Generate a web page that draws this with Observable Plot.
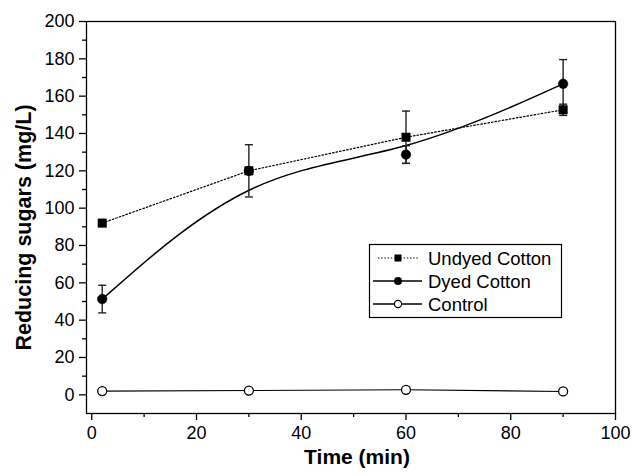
<!DOCTYPE html>
<html><head><meta charset="utf-8">
<script src="https://cdn.jsdelivr.net/npm/d3@7"></script>
<script src="https://cdn.jsdelivr.net/npm/@observablehq/plot@0.6"></script>
<style>body{margin:0;background:#fff} #chart{position:relative;width:632px;height:476px}</style>
</head><body><div id="chart"></div>
<script>
// ---- data ----
const time = [2, 30, 60, 90];
const undyed = [92, 120, 138, 152.7];
const undyedErr = [1, 0, 14, 3];
const dyed = [51.3, 120, 128.7, 166.6];
const dyedErr = [7.4, 14, 4.7, 13];
const control = [2, 2.3, 2.7, 1.8];
const seriesNames = ["Undyed Cotton", "Dyed Cotton", "Control"];
const xMajor = [0, 20, 40, 60, 80, 100];
const xMinor = [10, 30, 50, 70, 90];
const yMajor = [0, 20, 40, 60, 80, 100, 120, 140, 160, 180, 200];
const yMinor = [10, 30, 50, 70, 90, 110, 130, 150, 170, 190];
const xTitle = "Time (min)";
const yTitle = "Reducing sugars (mg/L)";

const mk = (vals, errs, name) => time.map((t, i) => ({t, v: vals[i], e: errs ? errs[i] : 0, name}));
const U = mk(undyed, undyedErr, seriesNames[0]);
const D = mk(dyed, dyedErr, seriesNames[1]);
const C = mk(control, null, seriesNames[2]);
const errRows = [...U, ...D].filter(d => d.e > 0);
const capRows = errRows.flatMap(d => [{t: d.t, y: d.v - d.e}, {t: d.t, y: d.v + d.e}]);

const capSymbol = {draw(ctx, size) { const r = Math.sqrt(size / Math.PI); ctx.moveTo(-r, 0); ctx.lineTo(r, 0); }};

const font = "'Liberation Sans', Arial, sans-serif";
const plot = Plot.plot({
  width: 632, height: 476,
  marginLeft: 86, marginRight: 17, marginTop: 21, marginBottom: 63,
  style: {fontFamily: font, fontSize: "18px", color: "#000", background: "#fff"},
  x: {domain: [-1, 100]},
  y: {domain: [-10, 200]},
  marks: [
    Plot.frame({stroke: "#000", strokeWidth: 1.3}),
    Plot.axisX({ticks: xMajor, tickSize: 7, tickPadding: 6, label: null, strokeWidth: 1.3}),
    Plot.axisX({ticks: xMinor, tickSize: 4, tickFormat: () => "", label: null, strokeWidth: 1.3}),
    Plot.axisY({ticks: yMajor, tickSize: 7, tickPadding: 5, label: null, strokeWidth: 1.3}),
    Plot.axisY({ticks: yMinor, tickSize: 4, tickFormat: () => "", label: null, strokeWidth: 1.3}),
    Plot.text([xTitle], {frameAnchor: "bottom", dx: 6, dy: 50, text: d => d, fontWeight: "bold", fontSize: 21, textAnchor: "middle"}),
    Plot.text([yTitle], {frameAnchor: "left", dx: -62, dy: 10, rotate: -90, text: d => d, fontWeight: "bold", fontSize: 21.5, textAnchor: "middle"}),
    // lines
    Plot.line(U, {x: "t", y: "v", stroke: "#000", strokeWidth: 1.2, strokeDasharray: "1.6,2"}),
    Plot.line(D, {x: "t", y: "v", stroke: "#000", strokeWidth: 1.5, curve: "basis"}),
    Plot.line(C, {x: "t", y: "v", stroke: "#000", strokeWidth: 1.1}),
    // error bars
    Plot.ruleX(errRows, {x: "t", y1: d => d.v - d.e, y2: d => d.v + d.e, stroke: "#222", strokeWidth: 1.4}),
    Plot.dot(capRows, {x: "t", y: "y", symbol: capSymbol, r: 4, stroke: "#222", strokeWidth: 1.4, fill: "none"}),
    // markers
    Plot.dot(D, {x: "t", y: "v", symbol: "circle", r: 4.8, fill: "#000", stroke: "#000", strokeWidth: 0.5}),
    Plot.dot(U, {x: "t", y: "v", symbol: "square", r: 4.8, fill: "#000", stroke: "#000", strokeWidth: 0.5}),
    Plot.dot(C, {x: "t", y: "v", symbol: "circle", r: 4.5, fill: "#fff", stroke: "#000", strokeWidth: 1.3})
  ]
});
document.getElementById("chart").appendChild(plot);

// legend
const svg = d3.select(plot);
const g = svg.append("g").attr("font-family", font).attr("font-size", 18.5).attr("text-anchor", "start");
g.append("rect").attr("x", 369.5).attr("y", 244.5).attr("width", 192).attr("height", 73)
  .attr("fill", "#fff").attr("stroke", "#000").attr("stroke-width", 1.2);
const rowsY = [258, 281, 304];
const dashes = ["1.4,1.8", null, null];
seriesNames.forEach((name, i) => {
  const y = rowsY[i];
  const x1 = i === 0 ? 378 : 373, x2 = i === 0 ? 418 : 422;
  const l = g.append("line").attr("x1", x1).attr("x2", x2).attr("y1", y).attr("y2", y)
    .attr("stroke", "#000").attr("stroke-width", i === 0 ? 1 : 1.3);
  if (dashes[i]) l.attr("stroke-dasharray", dashes[i]);
  if (i === 0) g.append("rect").attr("x", 394.5).attr("y", y - 3.5).attr("width", 7).attr("height", 7).attr("fill", "#000");
  else if (i === 1) g.append("circle").attr("cx", 398).attr("cy", y).attr("r", 4).attr("fill", "#000");
  else g.append("circle").attr("cx", 398).attr("cy", y).attr("r", 3.6).attr("fill", "#fff").attr("stroke", "#000").attr("stroke-width", 1.2);
  g.append("text").attr("x", 428).attr("y", y).attr("dy", "0.36em").attr("text-anchor", "start").text(name);
});
</script></body></html>
